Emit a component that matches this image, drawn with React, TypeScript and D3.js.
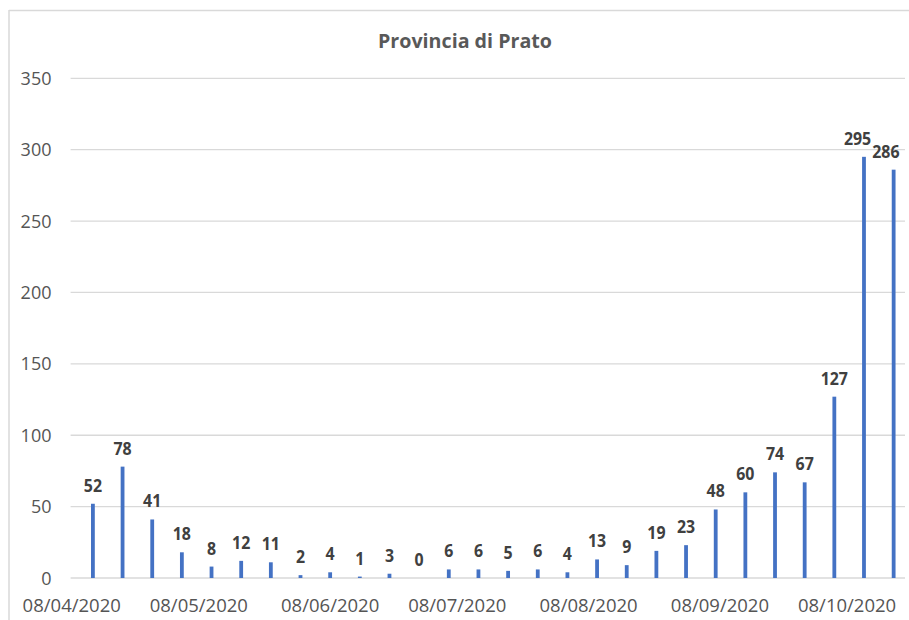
import React from "react";
import * as d3 from "d3";

const title = "Provincia di Prato";
const dates = [
  "2020-04-13", "2020-04-20", "2020-04-27", "2020-05-04", "2020-05-11", "2020-05-18", "2020-05-25",
  "2020-06-01", "2020-06-08", "2020-06-15", "2020-06-22", "2020-06-29", "2020-07-06", "2020-07-13",
  "2020-07-20", "2020-07-27", "2020-08-03", "2020-08-10", "2020-08-17", "2020-08-24", "2020-08-31",
  "2020-09-07", "2020-09-14", "2020-09-21", "2020-09-28", "2020-10-05", "2020-10-12", "2020-10-19",
];
const values = [52, 78, 41, 18, 8, 12, 11, 2, 4, 1, 3, 0, 6, 6, 5, 6, 4, 13, 9, 19, 23, 48, 60, 74, 67, 127, 295, 286];
const yTicks = [0, 50, 100, 150, 200, 250, 300, 350];
const xTickDates = ["2020-04-08", "2020-05-08", "2020-06-08", "2020-07-08", "2020-08-08", "2020-09-08", "2020-10-08"];
const axisStart = "2020-04-07T12:00:00";
const axisEnd = "2020-10-20T12:00:00";

const W = 909;
const H = 620;
const left = 69.6;
const right = 900;
const top = 78.3;
const bottom = 578;
const font = "'Open Sans', 'Noto Sans', sans-serif";
const digitW = 9.1;

export default function App() {
  const parse = (s: string) => new Date(s.length > 10 ? s : s + "T00:00:00");
  const x = d3.scaleTime().domain([parse(axisStart), parse(axisEnd)]).range([left, right]);
  const y = d3.scaleLinear().domain([0, 350]).range([bottom, top]);
  const fmt = d3.timeFormat("%d/%m/%Y");
  const barW = 3.8;

  // label placement: centred on bar, kept inside the plot, nudged left if colliding with the next one
  const labels = dates.map((d, i) => {
    const w = String(values[i]).length * digitW;
    return { cx: x(parse(d)), w, by: y(values[i]) - 12, v: values[i] };
  });
  for (let i = labels.length - 1; i >= 0; i--) {
    const l = labels[i];
    l.cx = Math.min(l.cx, right - 0.5 - l.w / 2);
    const n = labels[i + 1];
    if (n && Math.abs(n.by - l.by) < 18) {
      const maxRight = n.cx - n.w / 2 - 1;
      if (l.cx + l.w / 2 > maxRight) l.cx = maxRight - l.w / 2;
    }
  }

  return (
    <svg width={W} height={H} style={{ position: "absolute", left: 0, top: 0, background: "#fff" }}>
      <rect x={0} y={0} width={W} height={H} fill="#fff" />
      <line x1={9} x2={W} y1={10.5} y2={10.5} stroke="#d9d9d9" strokeWidth={1.5} />
      <line x1={9} x2={9} y1={10} y2={H} stroke="#d9d9d9" strokeWidth={1.5} />
      <text x={465} y={47.5} textAnchor="middle" fontFamily={font} fontSize={20} fontWeight={700} fill="#595959"
        textLength={174} lengthAdjust="spacingAndGlyphs">{title}</text>
      {yTicks.map((t) => (
        <g key={t}>
          <line x1={left + 1} x2={right + 5} y1={y(t)} y2={y(t)} stroke="#d9d9d9" strokeWidth={1.3} />
          <text x={51.5} y={y(t) + 6.5} textAnchor="end" fontFamily={font} fontSize={18} fontWeight={500} fill="#555">{t}</text>
        </g>
      ))}
      {xTickDates.map((d) => (
        <text key={d} x={x(parse(d))} y={611.5} textAnchor="middle" fontFamily={font} fontSize={18.5} fontWeight={500} fill="#555">
          {fmt(parse(d))}
        </text>
      ))}
      {dates.map((d, i) => (
        <rect key={d} x={x(parse(d)) - barW / 2} y={y(values[i])} width={barW} height={bottom - y(values[i])} fill="#4472c4" />
      ))}
      {labels.map((l, i) => (
        <text key={"l" + i} x={l.cx} y={l.by} textAnchor="middle" fontFamily={font} fontSize={17.5}
          fontWeight={700} fill="#404040" textLength={l.w} lengthAdjust="spacingAndGlyphs">{l.v}</text>
      ))}
    </svg>
  );
}
